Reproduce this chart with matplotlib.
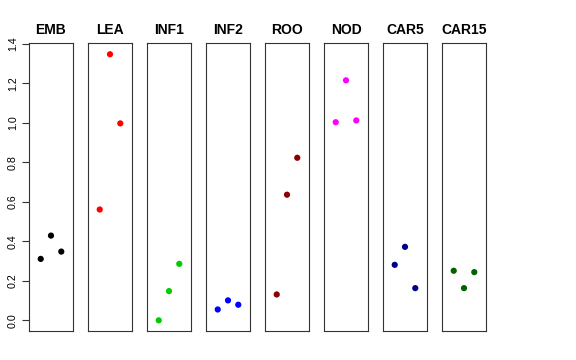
import matplotlib
matplotlib.use('Agg')
import matplotlib.pyplot as plt

plt.rcParams['font.family'] = ['Liberation Sans', 'DejaVu Sans']

groups = ['EMB', 'LEA', 'INF1', 'INF2', 'ROO', 'NOD', 'CAR5', 'CAR15']
colors = ['black', 'red', '#00CD00', 'blue', '#8B0000', 'magenta', '#00008B', '#006400']

# three replicates per group, left to right as drawn
emb = [0.311, 0.429, 0.348]
lea = [0.561, 1.347, 0.997]
inf1 = [0.0, 0.148, 0.286]
inf2 = [0.055, 0.101, 0.079]
roo = [0.131, 0.636, 0.823]
nod = [1.003, 1.215, 1.012]
car5 = [0.281, 0.372, 0.163]
car15 = [0.251, 0.163, 0.244]
values = [emb, lea, inf1, inf2, roo, nod, car5, car15]

yticks = [0.0, 0.2, 0.4, 0.6, 0.8, 1.0, 1.2, 1.4]
xpos = [1, 2, 3]

W, H = 576, 360
fig = plt.figure(figsize=(W / 100, H / 100), dpi=100)

left0, step, pw = 29, 59, 44
top, bottom = 43, 331

for i, (name, col, vals) in enumerate(zip(groups, colors, values)):
    ax = fig.add_axes([(left0 + i * step) / W, (H - bottom) / H, pw / W, (bottom - top) / H])
    ax.scatter(xpos, vals, s=20, color=col, edgecolors='none', zorder=3)
    ax.set_xlim(-0.14, 4.14)
    ax.set_ylim(-0.054, 1.404)
    ax.set_xticks([])
    for sp in ax.spines.values():
        sp.set_linewidth(0.8)
        sp.set_color('#333333')
    ax.set_title(name, fontsize=10, fontweight='bold', pad=6.5)
    if i == 0:
        ax.set_yticks(yticks)
        ax.set_yticklabels(['%.1f' % t for t in yticks], rotation=90, va='center', fontsize=7.7)
        ax.tick_params(axis='y', length=5, width=0.8, pad=3, color='#333333')
    else:
        ax.set_yticks([])

fig.savefig('out.png', dpi=100)
